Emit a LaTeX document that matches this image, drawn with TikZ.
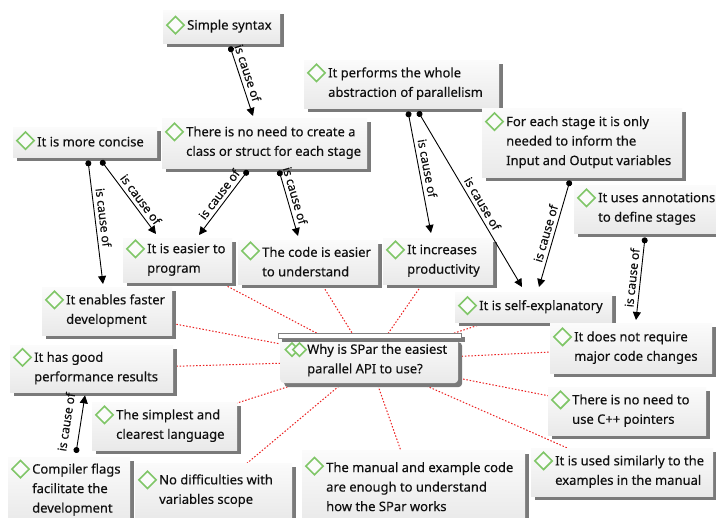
\documentclass[tikz,border=0pt]{standalone}
\usepackage{fontspec}
\setmainfont{Noto Sans}[FakeBold=0.25]
\usetikzlibrary{shapes.geometric,arrows.meta,shadows,backgrounds}

\definecolor{gemgreen}{RGB}{128,198,104}
\definecolor{inkc}{RGB}{16,16,16}
\definecolor{shadowgray}{RGB}{122,122,122}
\definecolor{boxtop}{RGB}{251,251,251}
\definecolor{boxbottom}{RGB}{233,233,233}
\definecolor{relred}{RGB}{236,32,32}

\tikzset{
  ideabox/.style={rectangle, inner sep=0pt, draw=none,
    top color=boxtop, bottom color=boxbottom,
    general shadow={fill=shadowgray, shadow xshift=4pt, shadow yshift=-4pt}},
  ideatext/.style={inner sep=0pt, align=left, text=inkc,
    font=\fontsize{13}{19.5}\selectfont\bfseries},
  gem/.style={diamond, draw=gemgreen, line width=1.6pt, fill=boxtop,
    minimum width=18pt, minimum height=18pt, inner sep=0pt},
  smallgem/.style={gem, minimum width=14pt, minimum height=14pt},
  cause/.style={draw=black, line width=0.9pt,
    {Circle[length=6pt]}-{Triangle[length=8pt,width=8pt]}},
  causelabel/.style={sloped, above, inner sep=3.5pt, text=inkc,
    font=\fontsize{12}{14}\selectfont},
  rel/.style={draw=relred, line width=1pt, dash pattern=on 1.5pt off 1.8pt},
}

% \idea{name}{left}{top}{width}{height}{lines}{text}
\newcommand\idea[7]{%
  \node[ideabox, minimum width=#4pt, minimum height=#5pt, anchor=north west]
    (#1) at (#2,-#3) {};
  \node[ideatext, anchor=west] (#1-text) at ([xshift=24pt,yshift=0.5pt]#1.west) {#7};
  \node[gem] (#1-gem) at ([xshift=12.5pt,yshift={(#6-1)*9.75+1.5}]#1.west) {};
}

\begin{document}
\begin{tikzpicture}[x=1pt,y=1pt]
\useasboundingbox (0,0) rectangle (716,-518);

% ideas around the hub
\idea{syntax}{163}{10}{117}{33}{1}{Simple syntax}
\idea{performs}{304}{60}{195}{48}{2}{It performs the whole\\abstraction of parallelism}
\idea{concise}{13}{127}{144}{30}{1}{It is more concise}
\idea{noneed}{162}{118}{205}{50}{2}{There is no need to create a\\class or struct for each stage}
\idea{foreach}{482}{108}{200}{69}{3}{For each stage it is only\\needed to inform the\\Input and Output variables}
\idea{annot}{574}{185}{146}{48}{2}{It uses annotations\\to define stages}
\idea{easier}{123}{238}{109}{44}{2}{It is easier to\\program}
\idea{code}{238}{240}{140}{44}{2}{The code is easier\\to understand}
\idea{increases}{383}{238}{110}{46}{2}{It increases\\productivity}
\idea{selfexp}{455}{292}{157}{30}{1}{It is self-explanatory}
\idea{faster}{42}{287}{130}{48}{2}{It enables faster\\development}
\idea{notreq}{550}{323}{162}{50}{2}{It does not require\\major code changes}
\idea{perf}{10}{345}{163}{47}{2}{It has good\\performance results}
\idea{cpp}{548}{387}{158}{48}{2}{There is no need to\\use C++ pointers}
\idea{simplest}{92}{402}{145}{48}{2}{The simplest and\\clearest language}
\idea{similar}{531}{448}{182}{48}{2}{It is used similarly to the\\examples in the manual}
\idea{manual}{302}{450}{223}{74}{3}{The manual and example code\\are enough to understand\\how the SPar works}
\idea{compiler}{8}{457}{122}{66}{3}{Compiler flags\\facilitate the\\development}
\idea{nodiff}{135}{463}{157}{56}{2}{No difficulties with\\variables scope}

% central question
\node[ideabox, rounded corners=4pt, minimum width=178pt, minimum height=45pt,
      anchor=north west] (hub) at (280,-338) {};
\path[fill=white, draw=gray, line width=0.8pt,
      general shadow={fill=shadowgray, shadow xshift=4pt, shadow yshift=-4pt}]
  ([xshift=-2pt]hub.north west) rectangle ([xshift=3pt,yshift=5pt]hub.north east);
\node[smallgem] (hub-gemback) at ([xshift=12pt,yshift=11pt]hub.west) {};
\node[smallgem] (hub-gem) at ([xshift=19.5pt,yshift=11pt]hub.west) {};
\node[ideatext, anchor=west] (hub-text) at ([xshift=27pt,yshift=0.5pt]hub.west)
  {Why is SPar the easiest\\parallel API to use?};

% white page and the dotted relations behind the boxes
\begin{pgfonlayer}{background}
\fill[white] (0,0) rectangle (716,-518);
\foreach \n in {easier,code,increases,selfexp,faster,notreq,perf,cpp,simplest,similar,manual,nodiff}
  \draw[rel] (hub.center) -- (\n.center);
\end{pgfonlayer}

% causal links
\draw[cause] ([xshift=67pt,yshift=-3pt]syntax.south west)
  -- node[causelabel,pos=.42]{is cause of} ([xshift=91pt,yshift=2pt]noneed.north west);
\draw[cause] ([xshift=75pt,yshift=-3pt]concise.south west)
  -- node[causelabel,pos=.47]{is cause of} ([xshift=61pt,yshift=3pt]faster.north west);
\draw[cause] ([xshift=88pt,yshift=-3pt]concise.south west)
  -- node[causelabel,pos=.6]{is cause of} ([xshift=33pt,yshift=4pt]easier.north west);
\draw[cause] ([xshift=86pt,yshift=-2pt]noneed.south west)
  -- node[causelabel,pos=.45]{is cause of} ([xshift=76pt,yshift=3pt]easier.north west);
\draw[cause] ([xshift=117pt,yshift=-2pt]noneed.south west)
  -- node[causelabel,pos=.42]{is cause of} ([xshift=60pt,yshift=4pt]code.north west);
\draw[cause] ([xshift=104pt,yshift=-3pt]performs.south west)
  -- node[causelabel,pos=.48]{is cause of} ([xshift=48pt,yshift=5pt]increases.north west);
\draw[cause] ([xshift=114pt,yshift=-3pt]performs.south west)
  -- node[causelabel,pos=.55]{is cause of} ([xshift=67pt,yshift=5pt]selfexp.north west);
\draw[cause] ([xshift=88pt,yshift=-3pt]foreach.south west)
  -- node[causelabel,pos=.52]{is cause of} ([xshift=84pt,yshift=5pt]selfexp.north west);
\draw[cause] ([xshift=71pt,yshift=-4pt]annot.south west)
  -- node[causelabel,pos=.5]{is cause of} ([xshift=86pt,yshift=3pt]notreq.north west);
\draw[cause] ([xshift=68pt,yshift=4pt]compiler.north west)
  -- node[causelabel,pos=.5,above=6pt]{is cause of} ([xshift=75pt,yshift=-3pt]perf.south west);
\end{tikzpicture}
\end{document}
